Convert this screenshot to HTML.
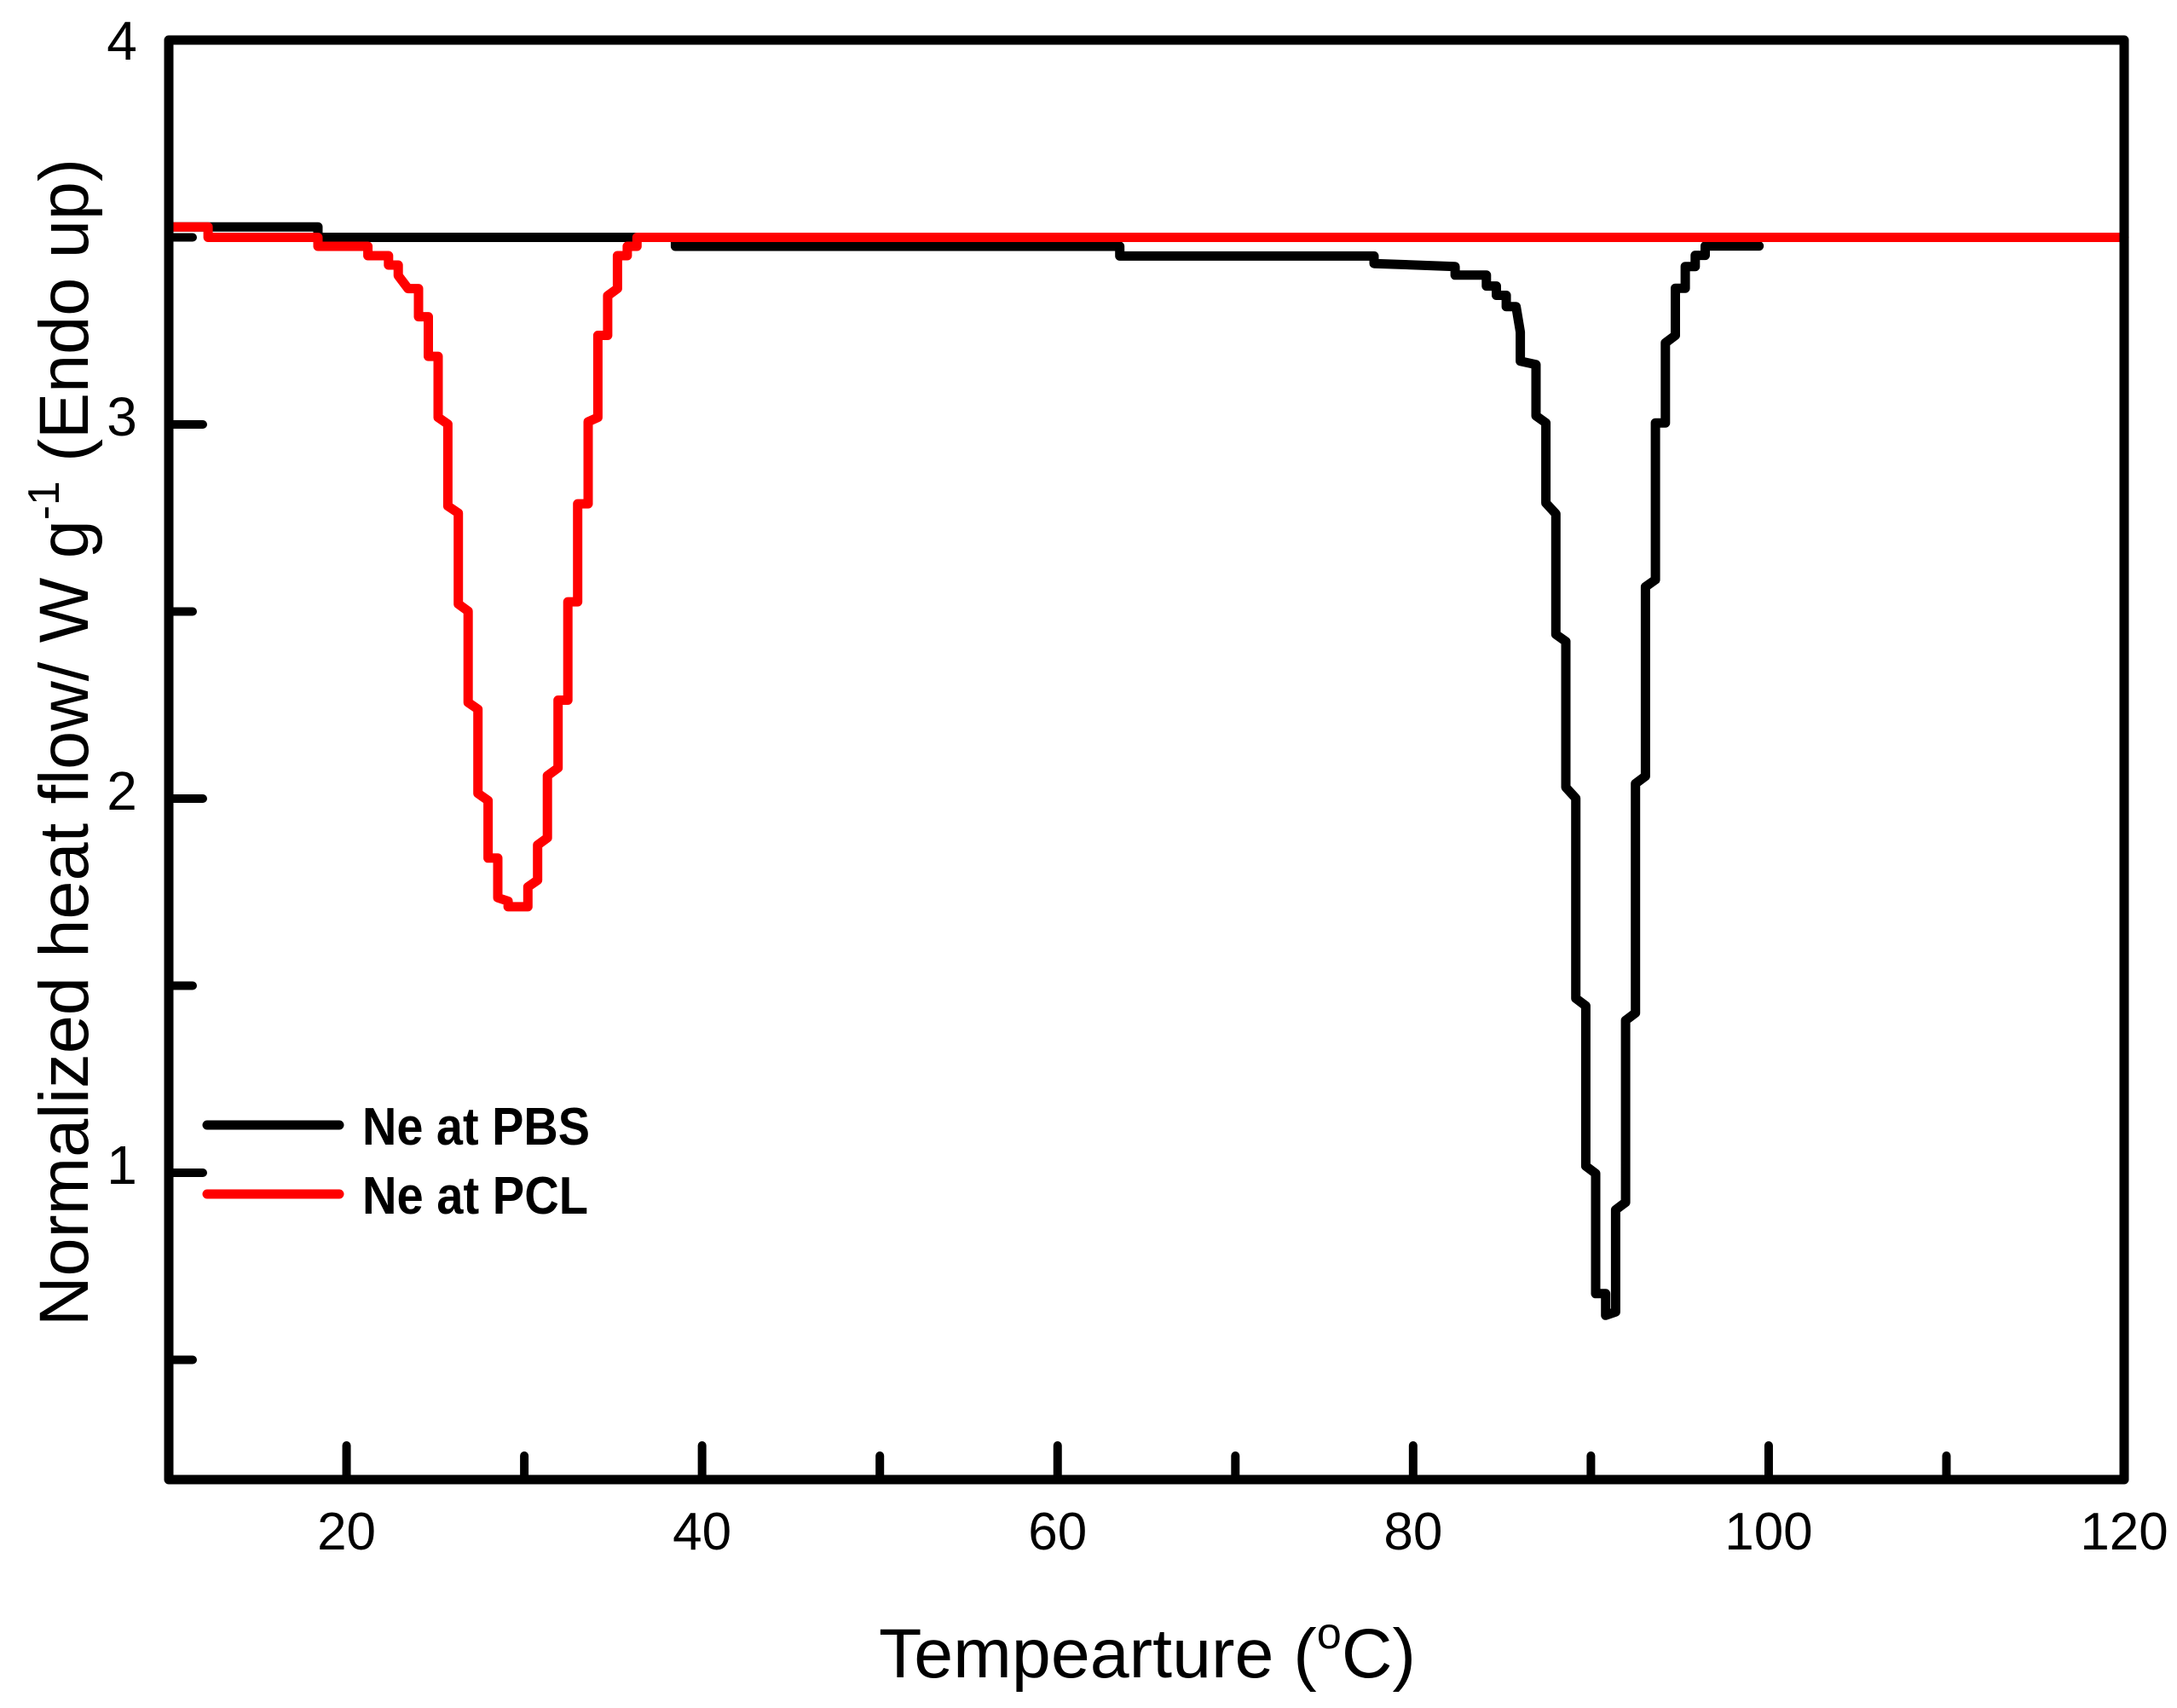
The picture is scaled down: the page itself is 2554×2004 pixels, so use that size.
<!DOCTYPE html>
<html><head><meta charset="utf-8"><style>
html,body{margin:0;padding:0;background:#fff;}
svg{display:block;}
text{font-family:"Liberation Sans",Arial,sans-serif;}
</style></head>
<body>
<svg id="chart" width="2554" height="2004" viewBox="0 0 2554 2004" xmlns="http://www.w3.org/2000/svg">
<rect x="0" y="0" width="2554" height="2004" fill="#fff"/>
<g id="series"></g>
<g id="axes"></g>
<text x="1031" y="1968" font-size="82" textLength="630" lengthAdjust="spacingAndGlyphs">Tempearture (<tspan font-size="52" dy="-34">o</tspan><tspan dy="34">C)</tspan></text>
<text transform="translate(103,1556) rotate(-90)" font-size="82" textLength="1370" lengthAdjust="spacingAndGlyphs">Normalized heat flow/ W g<tspan font-size="52" dy="-34">-1</tspan><tspan dy="34"> (Endo up)</tspan></text>
<g>
  <line x1="243" y1="1320" x2="398" y2="1320" stroke="#000" stroke-width="11" stroke-linecap="round"/>
  <text x="425" y="1343" font-size="62" font-weight="bold" textLength="267" lengthAdjust="spacingAndGlyphs">Ne at PBS</text>
  <line x1="243" y1="1401" x2="398" y2="1401" stroke="#ff0000" stroke-width="11" stroke-linecap="round"/>
  <text x="425" y="1424" font-size="62" font-weight="bold" textLength="265" lengthAdjust="spacingAndGlyphs">Ne at PCL</text>
</g>
</svg>
<script>
// ---- data ----
const pclTemp = [10.1,12.21,12.21,18.39,18.39,21.2,21.2,22.36,22.36,22.91,22.91,23.46,24.05,24.05,24.6,24.6,25.15,25.15,25.7,25.7,26.29,26.29,26.84,26.84,27.39,27.39,27.96,27.96,28.51,28.51,29.09,29.09,30.2,30.2,30.75,30.75,31.3,31.3,31.9,31.9,32.45,32.45,33.0,33.0,33.59,33.59,34.14,34.14,34.69,34.69,35.24,35.24,35.79,35.79,36.34,36.34,120];
const pclHeat = [3.528,3.528,3.5,3.5,3.476,3.476,3.451,3.451,3.426,3.426,3.398,3.363,3.363,3.288,3.288,3.182,3.182,3.019,3.001,2.782,2.763,2.52,2.501,2.257,2.239,2.014,1.995,1.841,1.841,1.735,1.726,1.711,1.711,1.764,1.782,1.876,1.895,2.061,2.082,2.263,2.263,2.526,2.526,2.788,2.788,3.007,3.019,3.238,3.238,3.344,3.363,3.451,3.451,3.476,3.476,3.5,3.5];
const pbsTemp = [10.1,18.39,18.39,38.5,38.5,63.5,63.5,77.8,77.8,82.36,82.36,84.12,84.12,84.68,84.68,85.24,85.24,85.79,86.03,86.03,86.91,86.91,87.47,87.47,88.03,88.03,88.59,88.59,89.15,89.15,89.71,89.71,90.27,90.27,90.83,90.83,91.39,91.39,91.95,91.95,92.51,92.51,93.07,93.07,93.63,93.63,94.19,94.19,94.75,94.75,95.31,95.31,95.87,95.87,96.43,96.43,99.46];
const pbsHeat = [3.528,3.528,3.5,3.5,3.476,3.476,3.45,3.45,3.43,3.422,3.399,3.399,3.37,3.37,3.345,3.345,3.315,3.315,3.247,3.169,3.16,3.023,3.004,2.79,2.761,2.439,2.42,2.03,2.001,1.466,1.446,1.018,0.998,0.677,0.677,0.619,0.628,0.901,0.921,1.407,1.427,2.04,2.06,2.566,2.585,3.004,3.004,3.218,3.238,3.364,3.364,3.422,3.422,3.452,3.452,3.477,3.477];
const xMajorTicks = [20,40,60,80,100,120];
const xMinorTicks = [30,50,70,90,110];
const xTickLabels = ["20","40","60","80","100","120"];
const yMajorTicks = [1,2,3,4];
const yMinorTicks = [0.5,1.5,2.5,3.5];
const yTickLabels = ["1","2","3","4"];

// ---- axes ----
const NS = "http://www.w3.org/2000/svg";
const X = v => 198 + (v - 10) * 20.855;
const Y = v => 1376 - (v - 1) * 439;
const FL = 198, FR = 2492, FT = 47, FB = 1736;
const axes = document.getElementById('axes');
const series = document.getElementById('series');
function mk(tag, attrs, parent){
  const e = document.createElementNS(NS, tag);
  for (const k in attrs) e.setAttribute(k, attrs[k]);
  parent.appendChild(e); return e;
}
function drawSeries(tx, hy, color, name){
  const pts = tx.map((t,i)=> X(t).toFixed(1)+','+Y(hy[i]).toFixed(1)).join(' ');
  const pl = mk('polyline', {points: pts, fill:'none', stroke: color, 'stroke-width': 11, 'stroke-linejoin':'round', 'stroke-linecap':'round'}, series);
  
  
}
drawSeries(pbsTemp, pbsHeat, '#000', 'series-neat-pbs');
drawSeries(pclTemp, pclHeat, '#ff0000', 'series-neat-pcl');

const frame = mk('rect', {x:FL, y:FT, width:FR-FL, height:FB-FT, fill:'none', stroke:'#000', 'stroke-width':11, 'stroke-linejoin':'round'}, axes);



xMajorTicks.forEach((v,i)=>{
  if (v < 120) {
    const t = mk('line', {x1:X(v), y1:FB, x2:X(v), y2:FB-40, stroke:'#000', 'stroke-width':10, 'stroke-linecap':'round'}, axes);
    
    
  }
  const l = mk('text', {x:X(v), y:1818, 'font-size':62, 'text-anchor':'middle'}, axes);
  l.textContent = xTickLabels[i];
  
  
});
xMinorTicks.forEach(v=>{
  const t = mk('line', {x1:X(v), y1:FB, x2:X(v), y2:FB-28, stroke:'#000', 'stroke-width':10, 'stroke-linecap':'round'}, axes);
  
  
});
yMajorTicks.forEach((v,i)=>{
  if (v < 4) {
    const t = mk('line', {x1:FL, y1:Y(v), x2:FL+40, y2:Y(v), stroke:'#000', 'stroke-width':10, 'stroke-linecap':'round'}, axes);
    
    
  }
  const yy = v < 4 ? Y(v) + 13 : 70;
  const l = mk('text', {x:143, y:yy, 'font-size':64, 'text-anchor':'middle'}, axes);
  l.textContent = yTickLabels[i];
  
  
});
yMinorTicks.forEach(v=>{
  const t = mk('line', {x1:FL, y1:Y(v), x2:FL+28, y2:Y(v), stroke:'#000', 'stroke-width':10, 'stroke-linecap':'round'}, axes);
  
  
});
</script>
</body></html>
